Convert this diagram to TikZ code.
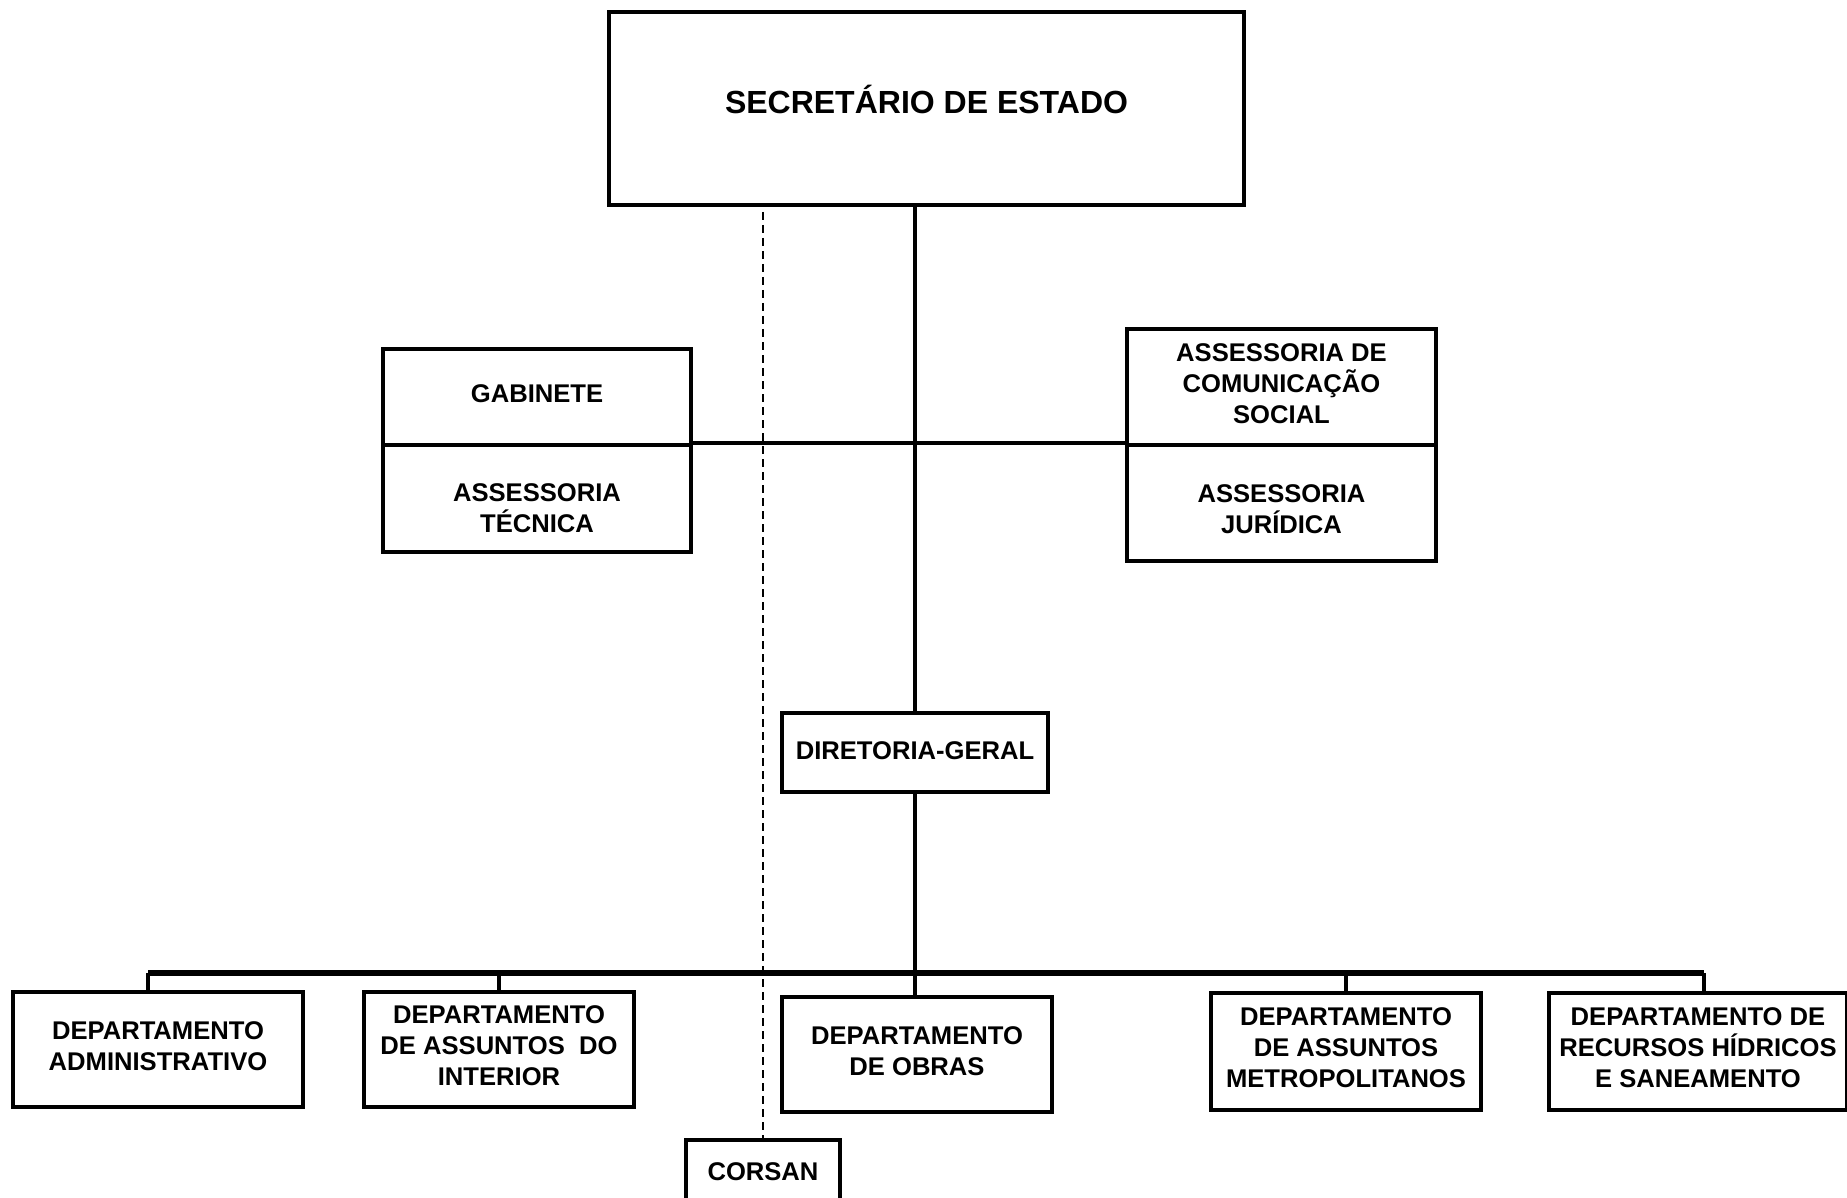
\documentclass[tikz,border=0pt]{standalone}
\usepackage{fontspec}
\setmainfont{Liberation Sans}
\usepackage{tikz}
\usetikzlibrary{calc}

\tikzset{
  orgbox/.style={draw, line width=2pt, align=center, inner sep=0pt, text depth=3.5pt,
    font=\fontsize{12.8}{15.5}\selectfont\bfseries},
  orgline/.style={line width=2.2pt},
  busline/.style={line width=2.6pt},
  linkline/.style={line width=0.8pt, dash pattern=on 4pt off 2.5pt}
}

\begin{document}
\begin{tikzpicture}[x=0.5pt, y=-0.5pt]
    \useasboundingbox (0,0) rectangle (1847,1198);

    % Top
    \node[orgbox, minimum width=317.5pt, minimum height=96.5pt, text depth=9.4pt,
          font=\fontsize{16}{19}\selectfont\bfseries] (sec) at (926.5,108.5) {SECRETÁRIO DE ESTADO};

    % Staff boxes
    \node[orgbox, minimum width=154pt, minimum height=48pt] (gab) at (537,397) {GABINETE};
    \node[orgbox, minimum width=154pt, minimum height=53.5pt, text depth=0pt, text height=34.1pt] (astec) at (537,498.5) {ASSESSORIA\\TÉCNICA};
    \node[orgbox, minimum width=154.5pt, minimum height=58pt] (ascom) at (1281.5,387) {ASSESSORIA DE\\COMUNICAÇÃO\\SOCIAL};
    \node[orgbox, minimum width=154.5pt, minimum height=58pt, text depth=0pt, text height=30.6pt] (asjur) at (1281.5,503) {ASSESSORIA\\JURÍDICA};

    % Middle
    \node[orgbox, minimum width=133pt, minimum height=39.5pt, text depth=2pt] (dir) at (915,752.5) {DIRETORIA-GERAL};

    % Departments
    \node[orgbox, minimum width=145pt, minimum height=57.5pt] (adm) at (158,1049.5) {DEPARTAMENTO\\ADMINISTRATIVO};
    \node[orgbox, minimum width=135pt, minimum height=57.5pt] (inter) at (499,1049.5) {DEPARTAMENTO\\DE ASSUNTOS\ \ DO\\INTERIOR};
    \node[orgbox, minimum width=135pt, minimum height=57.5pt] (obras) at (917,1054.5) {DEPARTAMENTO\\DE OBRAS};
    \node[orgbox, minimum width=135pt, minimum height=58.5pt] (metro) at (1346,1051.5) {DEPARTAMENTO\\DE ASSUNTOS\\METROPOLITANOS};
    \node[orgbox, minimum width=149pt, minimum height=58.5pt] (rec) at (1698,1051.5) {DEPARTAMENTO DE\\RECURSOS HÍDRICOS\\E SANEAMENTO};

    % Linked company
    \node[orgbox, minimum width=77pt, minimum height=35pt] (corsan) at (763,1175) {CORSAN};

    % Connectors
    \coordinate (bus) at (0,973);
    \coordinate (dtop) at (763,212);
    \draw[orgline] (dir.north) -- (dir.north |- sec.south);
    \draw[orgline] (astec.north east) -- (asjur.north west);
    \draw[orgline] (dir.south) -- (dir.south |- obras.north);
    \draw[busline] ($(adm.north |- bus)+(-10,0)$) -- ($(rec.north |- bus)+(6,0)$);
    \draw[orgline] ($(adm.north |- bus)+(-10,0)$) -- ($(adm.north)+(-10,0)$);
    \draw[orgline] ($(rec.north |- bus)+(6,0)$) -- ($(rec.north)+(6,0)$);
    \foreach \d in {inter, metro}
        \draw[orgline] (\d.north |- bus) -- (\d.north);
    \draw[linkline] (dtop) -- (corsan.north);
\end{tikzpicture}
\end{document}
